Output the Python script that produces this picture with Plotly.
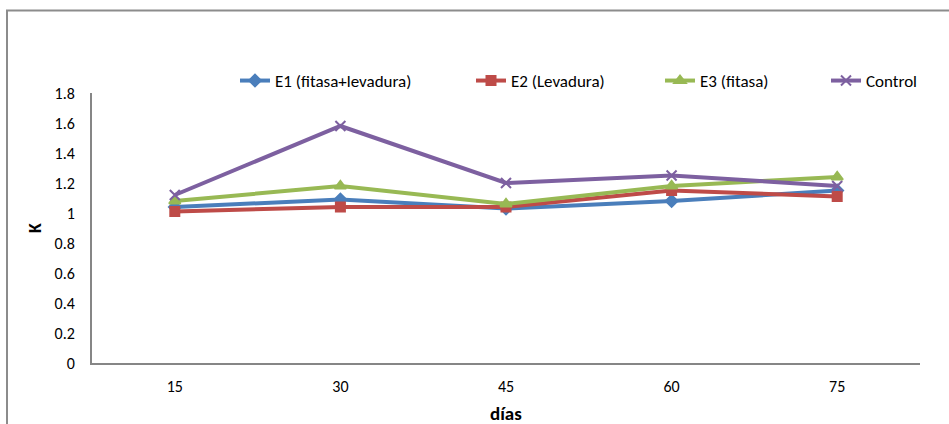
import plotly.graph_objects as go

dias = ["15", "30", "45", "60", "75"]
e1 = [1.04, 1.09, 1.03, 1.08, 1.15]
e2 = [1.01, 1.04, 1.04, 1.15, 1.11]
e3 = [1.08, 1.18, 1.06, 1.18, 1.24]
control = [1.12, 1.58, 1.20, 1.25, 1.18]
y_ticks = [0, 0.2, 0.4, 0.6, 0.8, 1, 1.2, 1.4, 1.6, 1.8]
y_labels = ["0", "0.2", "0.4", "0.6", "0.8", "1", "1.2", "1.4", "1.6", "1.8"]

series = [
    ("E1 (fitasa+levadura)", e1, "#4A7EBB", "diamond", 9, "legend"),
    ("E2 (Levadura)", e2, "#BE4B48", "square", 9, "legend2"),
    ("E3 (fitasa)", e3, "#98B954", "triangle-up", 10, "legend3"),
    ("Control", control, "#7D60A0", "x-thin-open", 10, "legend4"),
]

FONT = "Carlito, Lato, Liberation Sans, sans-serif"

fig = go.Figure()
for name, vals, color, sym, size, lg in series:
    fig.add_trace(go.Scatter(
        x=dias, y=vals, mode="lines+markers", name=name,
        line=dict(color=color, width=4),
        marker=dict(symbol=sym, size=size, color=color,
                    line=dict(color=color, width=2)),
        legend=lg, showlegend=True,
    ))

W, H = 949, 424
L, R, T, B = 92, 29, 93, 61
pw, ph = W - L - R, H - T - B

def px2x(px):
    return (px - L) / pw

def px2y(py):
    return (H - B - py) / ph

legend_pos = [("legend", 235), ("legend2", 471), ("legend3", 660), ("legend4", 826)]
legend_cfg = {}
for key, px in legend_pos:
    legend_cfg[key] = dict(
        x=px2x(px), y=px2y(81), xanchor="left", yanchor="middle",
        orientation="h", bgcolor="rgba(0,0,0,0)", visible=True,
        font=dict(family=FONT, size=17, color="#000"),
    )

fig.update_layout(
    width=W, height=H,
    margin=dict(l=L, r=R, t=T, b=B, autoexpand=False),
    paper_bgcolor="white", plot_bgcolor="white",
    showlegend=True,
    font=dict(family=FONT, size=16, color="#000"),
    xaxis=dict(
        type="category", range=[-0.5, 4.5], automargin=False,
        showgrid=False, zeroline=False,
        showline=True, linecolor="#868686", linewidth=2,
        ticks="", tickfont=dict(size=16), ticklabelstandoff=8,
    ),
    yaxis=dict(
        range=[0, 1.8], tickvals=y_ticks, ticktext=y_labels, automargin=False,
        showgrid=False, zeroline=False,
        showline=True, linecolor="#868686", linewidth=2,
        ticks="", ticklabelstandoff=12, tickfont=dict(size=16),
    ),
    annotations=[
        dict(text="<b>días</b>", xref="paper", yref="paper",
             x=px2x(506), y=px2y(413), xanchor="center", yanchor="middle",
             showarrow=False, font=dict(family=FONT, size=19, color="#000")),
        dict(text="<b>K</b>", xref="paper", yref="paper",
             x=px2x(35), y=px2y(228), xanchor="center", yanchor="middle",
             textangle=-90, showarrow=False,
             font=dict(family=FONT, size=18, color="#000")),
    ],
    shapes=[dict(
        type="rect", xref="paper", yref="paper",
        x0=px2x(7), x1=px2x(1100), y0=px2y(600), y1=px2y(10.5),
        line=dict(color="#8c8c8c", width=2), fillcolor="rgba(0,0,0,0)",
        layer="below",
    )],
    **legend_cfg,
)

fig.write_html("out.html")
